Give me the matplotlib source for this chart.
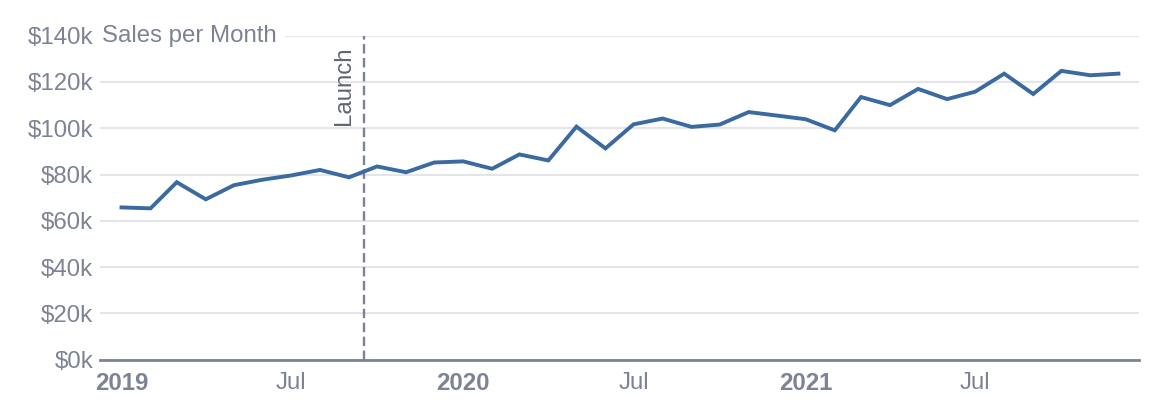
import matplotlib.pyplot as plt
import numpy as np
import pandas as pd

months = pd.date_range('2019-01-01', '2021-12-01', freq='MS')
sales_k = [65.8, 65.4, 76.7, 69.3, 75.4, 77.8, 79.6, 82.0, 78.8, 83.5, 81.0, 85.2,
           85.7, 82.5, 88.7, 86.1, 100.7, 91.3, 101.7, 104.2, 100.6, 101.6, 107.0, 105.5,
           103.9, 99.1, 113.5, 110.0, 117.0, 112.6, 115.8, 123.6, 114.8, 124.8, 122.9, 123.6]
launch_date = pd.Timestamp('2019-09-17')
y_ticks = [0, 20, 40, 60, 80, 100, 120, 140]
x_tick_dates = ['2019-01-01', '2019-07-01', '2020-01-01', '2020-07-01', '2021-01-01', '2021-07-01']
x_tick_labels = ['2019', 'Jul', '2020', 'Jul', '2021', 'Jul']

text_color = '#7c8394'
axis_color = '#7c8394'
grid_color = '#e4e4ea'
line_color = '#3a6aa0'
fs = 17.3

plt.rcParams['font.family'] = ['Liberation Sans', 'DejaVu Sans']

fig = plt.figure(figsize=(11.62, 4.18), dpi=100)
ax = fig.add_axes([100 / 1162, (418 - 359.7) / 418, 1039 / 1162, 324 / 418])

ax.plot(months, sales_k, color=line_color, linewidth=2.8, solid_joinstyle='miter', zorder=3)

ax.set_ylim(0, 140)
ax.set_xlim(pd.Timestamp('2018-12-09'), pd.Timestamp('2021-12-23'))

ax.set_yticks(y_ticks)
ax.set_yticklabels([f'${v}k' for v in y_ticks])
ax.grid(axis='y', color=grid_color, linewidth=1.5, zorder=0)
ax.tick_params(axis='y', length=0, pad=5, labelsize=fs, labelcolor=text_color)

# x ticks: years bold, July regular
ax.set_xticks([pd.Timestamp(s) for s in x_tick_dates])
ax.set_xticklabels(x_tick_labels)
ax.tick_params(axis='x', length=0, pad=9, labelsize=fs, labelcolor=text_color)
for lbl in ax.get_xticklabels():
    if lbl.get_text() != 'Jul':
        lbl.set_fontweight('bold')

for s in ['top', 'right', 'left']:
    ax.spines[s].set_visible(False)
ax.spines['bottom'].set_color(axis_color)
ax.spines['bottom'].set_linewidth(2)
ax.spines['bottom'].set_zorder(4)

# launch marker
ax.axvline(launch_date, color=axis_color, linewidth=1.7, linestyle=(0, (4, 1.9)), zorder=2)
ax.text(launch_date - pd.Timedelta(days=10), 135.5, 'Launch', rotation=90, ha='right', va='top',
        fontsize=fs, color='#5f6573')

# chart title sitting on the top gridline
ax.text(0.0015, 140, 'Sales per Month', transform=ax.get_yaxis_transform(), ha='left', va='center',
        fontsize=fs, color=text_color, zorder=5,
        bbox=dict(facecolor='white', edgecolor='none', boxstyle='square,pad=0.35'))

fig.savefig('out.png', dpi=100)
